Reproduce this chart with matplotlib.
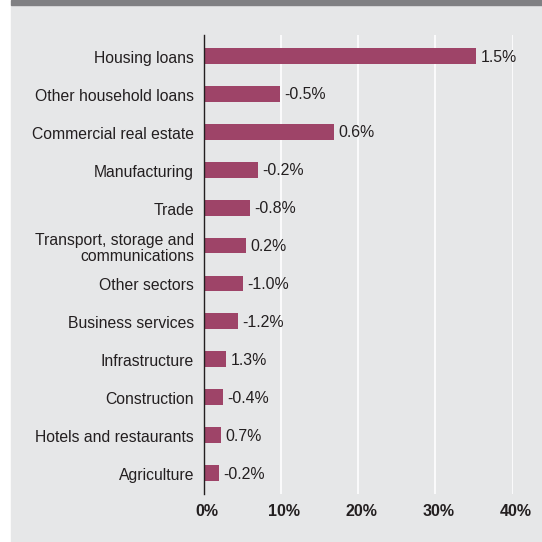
import matplotlib.pyplot as plt
from matplotlib.patches import Rectangle
from matplotlib.transforms import ScaledTranslation
import numpy as np

plt.rcParams['font.family'] = ['Liberation Sans', 'DejaVu Sans']

# sectors, share of loans (%) and annual change labels
sectors = ['Housing loans', 'Other household loans', 'Commercial real estate',
           'Manufacturing', 'Trade', 'Transport, storage and\ncommunications',
           'Other sectors', 'Business services', 'Infrastructure',
           'Construction', 'Hotels and restaurants', 'Agriculture']
shares = [35.3, 9.9, 16.9, 7.0, 6.0, 5.5, 5.1, 4.4, 2.9, 2.5, 2.2, 2.0]
changes = ['1.5%', '-0.5%', '0.6%', '-0.2%', '-0.8%', '0.2%', '-1.0%',
           '-1.2%', '1.3%', '-0.4%', '0.7%', '-0.2%']
xticks = [0, 10, 20, 30, 40]

bar_col = '#9e4468'
panel_col = '#e6e7e8'
text_col = '#231f20'

fig = plt.figure(figsize=(5.42, 5.42), dpi=100, facecolor='white')
W = 542.0
# grey panel + dark top strip
fig.add_artist(Rectangle((11 / W, 0), 1 - 11 / W, 1 - 5 / W,
                         transform=fig.transFigure, color=panel_col, zorder=-10))
fig.add_artist(Rectangle((11 / W, 1 - 5 / W), 1 - 11 / W, 5 / W,
                         transform=fig.transFigure, color='#808083', zorder=-10))

ax = fig.add_axes([203.7 / W, 1 - 494 / W, (512.7 - 203.7) / W, (494 - 35) / W])
ax.set_zorder(5)
ax.set_facecolor('none')

y = np.arange(len(sectors))
ax.barh(y, shares, height=0.42, color=bar_col, zorder=3)
for yi, s, c in zip(y, shares, changes):
    ax.text(s + 0.55, yi + 0.03, c, va='center', ha='left', fontsize=11.4,
            color=text_col, clip_on=False)

ax.set_ylim(len(sectors) - 0.45, -0.55)
ax.set_xlim(0, 40)
ax.set_yticks(y)
ax.set_yticklabels(sectors, fontsize=11.3, color=text_col, linespacing=1.05)
ax.set_xticks(xticks)
ax.set_xticklabels(['%d%%' % t for t in xticks], fontsize=11.5,
                   fontweight='bold', color=text_col)
ax.tick_params(axis='both', length=0)
ax.tick_params(axis='y', pad=7)
ax.tick_params(axis='x', pad=7)

shift = ScaledTranslation(3 / 100, 0, fig.dpi_scale_trans)
for lab in ax.get_xticklabels():
    lab.set_transform(lab.get_transform() + shift)
shift_y = ScaledTranslation(0, -1 / 100, fig.dpi_scale_trans)
for lab in ax.get_yticklabels():
    lab.set_transform(lab.get_transform() + shift_y)

for t in xticks[1:]:
    ax.axvline(t, color='white', lw=1.2, zorder=1)
for sp in ['top', 'right', 'bottom']:
    ax.spines[sp].set_visible(False)
ax.spines['left'].set_color(text_col)
ax.spines['left'].set_linewidth(1.0)
ax.spines['left'].set_zorder(4)

fig.savefig('out.png', dpi=100, facecolor='white')
